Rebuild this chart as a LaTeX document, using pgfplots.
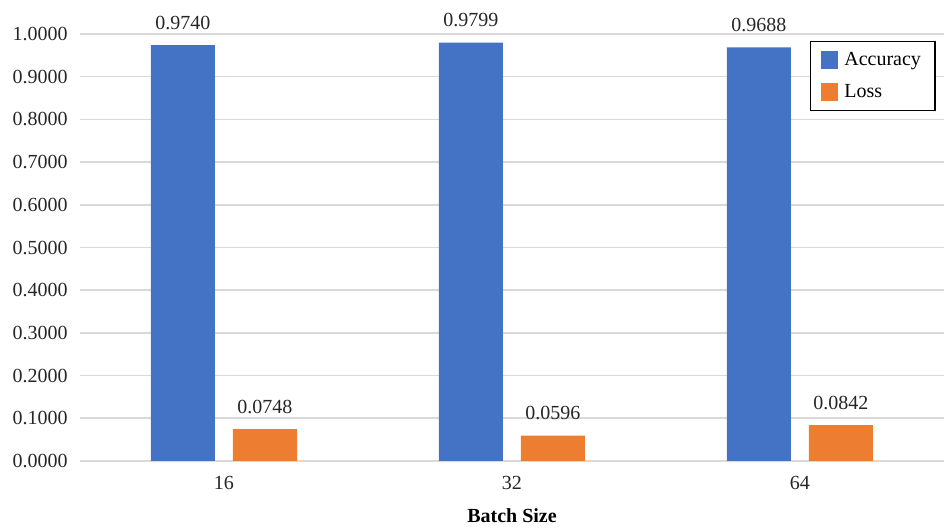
\documentclass[border=0pt]{standalone}
\usepackage{fontspec}
\setmainfont{Liberation Serif}
\usepackage{pgfplots}
\pgfplotsset{compat=1.18}
\definecolor{accblue}{RGB}{68,114,196}
\definecolor{lossorange}{RGB}{237,125,49}
\definecolor{gridgray}{RGB}{217,217,217}
\begin{document}
\begin{tikzpicture}
\useasboundingbox (0,0) rectangle (472pt,265pt);
\begin{axis}[
  at={(40pt,34.5pt)}, anchor=south west,
  scale only axis, width=432pt, height=213.5pt,
  xmin=-0.5, xmax=2.5, ymin=0, ymax=1,
  ybar, bar width=32pt,
  xtick={0,1,2}, xticklabels={16,32,64},
  ytick={0,0.1,0.2,0.3,0.4,0.5,0.6,0.7,0.8,0.9,1.0},
  ymajorgrids, grid style={gridgray, line width=0.8pt},
  axis line style={draw=none},
  major tick length=0pt,
  /pgf/number format/assume math mode=true,
  yticklabel style={inner sep=0pt, xshift=-6pt,
    /pgf/number format/.cd, fixed, fixed zerofill, precision=4},
  xticklabel style={inner sep=0pt, yshift=-7.5pt},
  tick label style={font=\fontsize{10}{12}\selectfont, text=black!85},
  xlabel={\textbf{Batch Size}},
  xlabel style={inner sep=0pt, at={(axis description cs:0.5,0)}, anchor=north, yshift=-23.5pt},
  nodes near coords={\pgfmathprintnumber[fixed,fixed zerofill,precision=4]{\pgfplotspointmeta}},
  nodes near coords style={anchor=south, inner sep=0pt, yshift=7.5pt, text=black!85},
  legend style={at={(axis description cs:0.845,0.984)}, anchor=north west,
    draw=black, line width=0.7pt, inner xsep=5pt, inner ysep=3.2pt,
    row sep=4pt, font=\fontsize{10}{12}\selectfont},
  legend cell align=left,
  legend image code/.code={\fill[#1] (0pt,-4.4pt) rectangle (8.8pt,4.4pt); \path (9.8pt,0pt);},
]
\addplot[fill=accblue, draw=none, bar shift=-20.5pt] coordinates {(0,0.9740) (1,0.9799) (2,0.9688)};
\addplot[fill=lossorange, draw=none, bar shift=20.5pt] coordinates {(0,0.0748) (1,0.0596) (2,0.0842)};
\legend{Accuracy, Loss}
\end{axis}
\end{tikzpicture}
\end{document}
